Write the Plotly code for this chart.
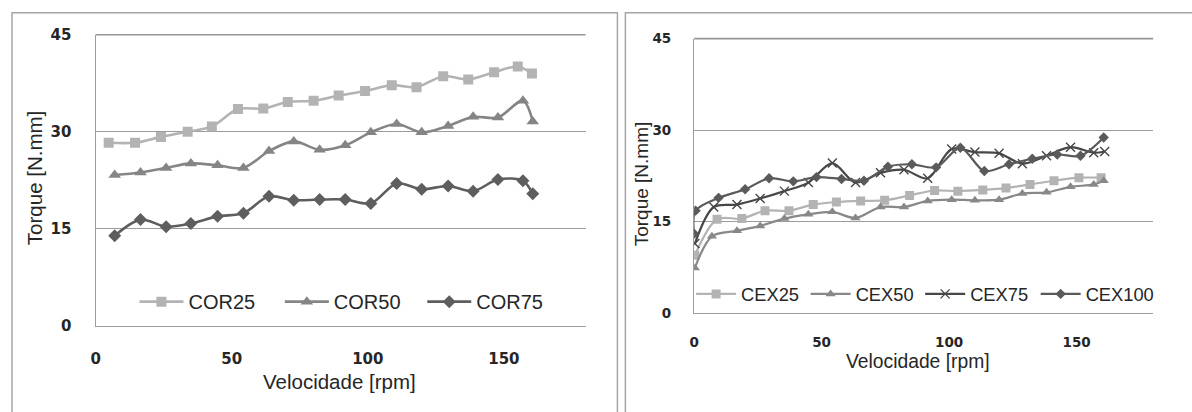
import plotly.graph_objects as go

W, H = 1192, 412

# ---------------- data (left panel: COR) ----------------
cor25_x = [4.8, 14.5, 24.0, 33.8, 42.7, 52.3, 61.6, 70.6, 80.1, 89.3, 99.0, 108.8, 117.9, 127.7, 136.9, 146.4, 155.1, 160.3]
cor25_y = [28.3, 28.3, 29.2, 30.0, 30.8, 33.5, 33.6, 34.6, 34.8, 35.6, 36.3, 37.2, 36.9, 38.6, 38.1, 39.2, 40.1, 39.0]
cor_x = [7.0, 16.5, 25.9, 35.0, 44.8, 54.3, 63.7, 72.8, 82.3, 91.7, 101.1, 110.6, 119.8, 129.5, 138.7, 147.8, 157.0, 160.6]
cor50_y = [23.3, 23.7, 24.4, 25.1, 24.8, 24.4, 27.0, 28.5, 27.2, 27.9, 29.9, 31.2, 29.9, 30.9, 32.3, 32.2, 34.8, 31.6]
cor75_y = [13.9, 16.4, 15.3, 15.8, 16.9, 17.4, 20.0, 19.4, 19.5, 19.5, 18.9, 22.0, 21.1, 21.6, 20.8, 22.6, 22.4, 20.4]

# ---------------- data (right panel: CEX) ----------------
cex25_x = [0.3, 9.0, 18.7, 27.8, 37.2, 46.7, 55.8, 65.3, 74.7, 84.5, 94.3, 103.4, 113.2, 122.3, 131.7, 141.1, 150.9, 159.6]
cex25_y = [9.5, 15.4, 15.5, 16.8, 16.8, 17.8, 18.2, 18.4, 18.5, 19.3, 20.1, 20.0, 20.2, 20.5, 21.1, 21.7, 22.2, 22.2]
cex50_x = [0.3, 7.0, 16.8, 25.9, 35.4, 44.8, 54.2, 63.3, 73.1, 82.3, 91.6, 101.0, 110.1, 119.6, 128.7, 138.2, 147.6, 156.7, 160.6]
cex50_y = [7.4, 12.6, 13.5, 14.3, 15.5, 16.2, 16.6, 15.6, 17.4, 17.4, 18.4, 18.6, 18.5, 18.6, 19.6, 19.8, 20.7, 21.1, 21.7]
cex75_x = [0.3, 7.7, 16.8, 25.9, 35.4, 44.8, 54.2, 63.3, 73.1, 82.3, 91.6, 101.0, 110.1, 119.6, 128.7, 138.2, 147.6, 156.7, 161.0]
cex75_y = [11.4, 17.4, 17.8, 18.8, 20.0, 21.4, 24.6, 21.4, 23.0, 23.5, 22.1, 26.9, 26.4, 26.2, 24.5, 25.8, 27.2, 26.3, 26.5]
cex100_x = [0.0, 0.6, 9.6, 20.0, 29.4, 38.9, 48.0, 57.8, 66.6, 76.0, 85.4, 94.9, 104.4, 113.8, 123.5, 132.6, 142.4, 151.5, 160.6]
cex100_y = [13.0, 16.8, 18.9, 20.3, 22.1, 21.6, 22.3, 22.0, 21.7, 24.0, 24.4, 23.9, 27.1, 23.3, 24.4, 25.3, 26.0, 25.8, 28.8]

x_ticks = [0, 50, 100, 150]
y_ticks = [0, 15, 30, 45]
y_max = 45
x_title = "Velocidade [rpm]"
y_title = "Torque [N.mm]"


def px_x(p):
    return p / W


def px_y(p):
    return 1 - p / H


GRID = "#9c9c9c"
TXT = "#262626"

fig = go.Figure()

left_series = [
    ("COR25", cor25_x, cor25_y, "#b3b3b3", "square", 10),
    ("COR50", cor_x, cor50_y, "#858585", "triangle-up", 11),
    ("COR75", cor_x, cor75_y, "#5e5e5e", "diamond", 10),
]
left_text_start = [184, 330, 473]
for i, (name, xs, ys, col, sym, sz) in enumerate(left_series):
    lg = "legend" if i == 0 else f"legend{i + 1}"
    fig.add_trace(go.Scatter(
        x=xs, y=ys, name=name, mode="lines+markers",
        line=dict(color=col, width=2.6, shape="spline", smoothing=0.9),
        marker=dict(symbol=sym, size=sz, color=col),
        xaxis="x", yaxis="y", legend=lg))

right_series = [
    ("CEX25", cex25_x, cex25_y, "#b3b3b3", "square", 9, 0),
    ("CEX50", cex50_x, cex50_y, "#888888", "triangle-up", 9, 0),
    ("CEX75", cex75_x, cex75_y, "#474747", "x-thin", 9, 1.4),
    ("CEX100", cex100_x, cex100_y, "#5a5a5a", "diamond", 8, 0),
]
right_text_start = [739, 854, 969, 1085]
for j, (name, xs, ys, col, sym, sz, lw) in enumerate(right_series):
    lg = f"legend{j + 4}"
    fig.add_trace(go.Scatter(
        x=xs, y=ys, name=name, mode="lines+markers",
        line=dict(color=col, width=2.2, shape="spline", smoothing=0.9),
        marker=dict(symbol=sym, size=sz, color=col,
                    line=dict(color=col, width=lw)),
        xaxis="x2", yaxis="y2", legend=lg))

line_style = dict(zeroline=False, showline=True, linecolor=GRID, linewidth=1.3,
                  ticks="outside", tickcolor="rgba(0,0,0,0)")

fig.update_layout(
    width=W, height=H,
    margin=dict(l=0, r=0, t=0, b=0),
    paper_bgcolor="white", plot_bgcolor="white",
    showlegend=True,
    xaxis=dict(domain=[px_x(91), px_x(583)], range=[0, 180], tickvals=x_ticks,
               anchor="y", ticklen=19, showgrid=False,
               tickfont=dict(family="DejaVu Sans", size=15, color=TXT, weight="bold"), **line_style),
    yaxis=dict(domain=[px_y(331), px_y(27)], range=[0, y_max], tickvals=y_ticks,
               anchor="x", ticklen=20, showgrid=True, gridcolor=GRID, gridwidth=1.3,
               tickfont=dict(family="DejaVu Sans", size=15, color=TXT, weight="bold"), **line_style),
    xaxis2=dict(domain=[px_x(692), px_x(1153)], range=[0, 180], tickvals=x_ticks,
                anchor="y2", ticklen=17, showgrid=False,
                tickfont=dict(family="DejaVu Sans", size=13.5, color=TXT, weight="bold"), **line_style),
    yaxis2=dict(domain=[px_y(318), px_y(31)], range=[0, y_max], tickvals=y_ticks,
                anchor="x2", ticklen=19, showgrid=True, gridcolor=GRID, gridwidth=1.3,
                tickfont=dict(family="DejaVu Sans", size=13.5, color=TXT, weight="bold"), **line_style),
)

# top gridline (at y_max = top of each plot area), drawn unclipped
for xr, yr in (("x domain", "y domain"), ("x2 domain", "y2 domain")):
    fig.add_shape(type="line", xref=xr, yref=yr, x0=0, x1=1, y0=1, y1=1,
                  line=dict(color="#969696", width=1.6), layer="above")

# legends: one per entry, placed inside the plot areas
LIW_L, LIW_R = 44, 40
for i in range(3):
    key = "legend" if i == 0 else f"legend{i + 1}"
    fig.update_layout({key: dict(x=px_x(left_text_start[i] - LIW_L - 10), xanchor="left",
                                 y=px_y(306), yanchor="middle", itemwidth=LIW_L,
                                 bgcolor="rgba(0,0,0,0)", borderwidth=0,
                                 font=dict(family="Liberation Sans", size=20, color=TXT))})
for j in range(4):
    key = f"legend{j + 4}"
    fig.update_layout({key: dict(x=px_x(right_text_start[j] - LIW_R - 10), xanchor="left",
                                 y=px_y(298), yanchor="middle", itemwidth=LIW_R,
                                 bgcolor="rgba(0,0,0,0)", borderwidth=0,
                                 font=dict(family="Liberation Sans", size=18.3, color=TXT))})

# axis titles
ann = [
    dict(text=x_title, x=px_x(336), y=px_y(390), font_size=20.5),
    dict(text=y_title, x=px_x(29), y=px_y(177), font_size=20.5, textangle=-90),
    dict(text=x_title, x=px_x(917), y=px_y(369), font_size=19.3),
    dict(text=y_title, x=px_x(639), y=px_y(183), font_size=19, textangle=-90),
]
for a in ann:
    fig.add_annotation(xref="paper", yref="paper", showarrow=False,
                       xanchor="center", yanchor="middle",
                       font=dict(family="Liberation Sans", size=a.pop("font_size"), color=TXT), **a)

# panel frames
fig.add_shape(type="rect", xref="paper", yref="paper",
              x0=px_x(7), x1=px_x(615), y0=px_y(430), y1=px_y(4),
              line=dict(color="#a6a6a6", width=1.5), layer="below")
fig.add_shape(type="rect", xref="paper", yref="paper",
              x0=px_x(623), x1=px_x(1210), y0=px_y(430), y1=px_y(4),
              line=dict(color="#a6a6a6", width=1.5), layer="below")

fig.write_html("out.html",
               post_script="document.documentElement.style.margin='0';document.body.style.margin='0';document.body.style.overflow='hidden';")
